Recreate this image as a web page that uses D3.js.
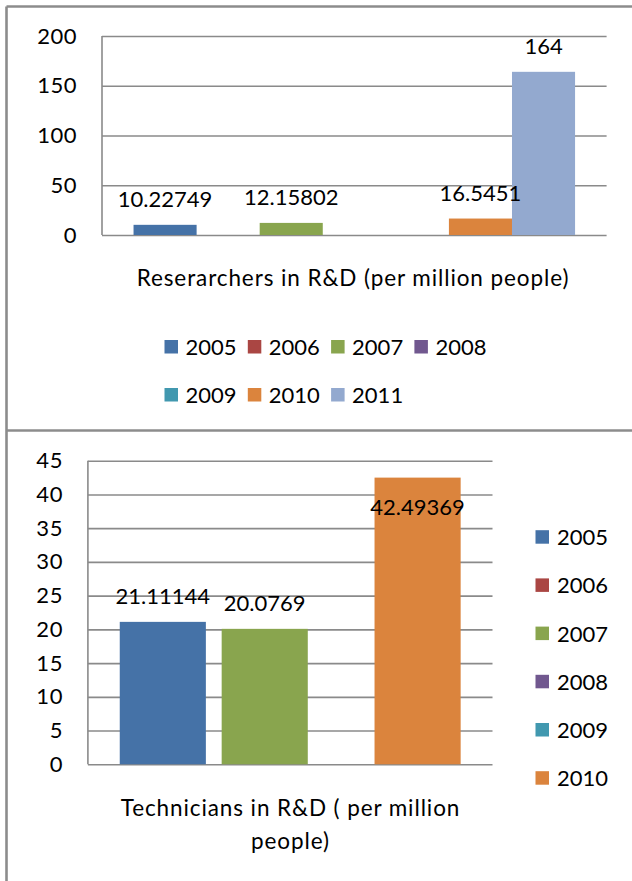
<!DOCTYPE html>
<html>
<head>
<meta charset="utf-8">
<script src="https://cdn.jsdelivr.net/npm/d3@7"></script>
<style>
  html, body { margin: 0; padding: 0; background: #fff; }
  svg { display: block; font-family: Lato, "Open Sans", sans-serif; }
</style>
</head>
<body>
<svg id="chart" width="632" height="881"></svg>
<script>
// Series (one per year) and values for each panel
const years = ["2005", "2006", "2007", "2008", "2009", "2010", "2011"];
const researchers = [10.22749, null, 12.15802, null, null, 16.5451, 164];
const techYears = ["2005", "2006", "2007", "2008", "2009", "2010"];
const technicians = [21.11144, null, 20.0769, null, null, 42.49369];
const yearColors = ["#4572A7", "#AA4643", "#89A54E", "#71588F", "#4198AF", "#DB843D", "#93A9CF"];
const researcherTicks = [0, 50, 100, 150, 200];
const technicianTicks = [0, 5, 10, 15, 20, 25, 30, 35, 40, 45];
const researcherTitle = ["Reserarchers in R&D (per million people)"];
const technicianTitle = ["Technicians in R&D ( per million", "people)"];

const svg = d3.select("#chart");
const GRID = "#8a8a8a";
const FONT = 22;
const color = d3.scaleOrdinal().domain(years).range(yearColors);

// Panel frames
const frame = svg.append("g").attr("fill", "none").attr("stroke", "#8c8c8c").attr("stroke-width", 2.6);
frame.append("line").attr("x1", 6.5).attr("y1", 6.5).attr("x2", 632).attr("y2", 6.5);
frame.append("line").attr("x1", 6.5).attr("y1", 6.5).attr("x2", 6.5).attr("y2", 881);
frame.append("line").attr("x1", 6.5).attr("y1", 430.5).attr("x2", 632).attr("y2", 430.5);

function valueAxis(g, y, ticks, width) {
  const axis = d3.axisLeft(y).tickValues(ticks).tickSize(-width).tickPadding(25).tickFormat(d3.format("d"));
  g.call(axis);
  g.select(".domain").remove();
  g.selectAll(".tick line").attr("stroke", GRID).attr("stroke-width", 1.6);
  g.selectAll(".tick text").attr("fill", "#000").style("font-size", FONT + "px")
    .style("font-family", "Lato, 'Open Sans', sans-serif").style("letter-spacing", "0.5px");
  g.append("line").attr("x1", 0).attr("x2", 0)
    .attr("y1", y(ticks[0])).attr("y2", y(ticks[ticks.length - 1]))
    .attr("stroke", GRID).attr("stroke-width", 1.6);
}

// Value labels sit above each bar; when that would leave the plot they go inside the bar top
function dataLabels(g, rows, xc, y, top) {
  const off = 26;
  g.selectAll("text.lbl").data(rows).join("text")
    .attr("class", "lbl")
    .attr("x", d => xc(d))
    .attr("y", d => {
      const yt = y(d.value);
      return (yt - off < top) ? yt + off + 3 : yt - off;
    })
    .attr("text-anchor", "middle")
    .attr("dominant-baseline", "central")
    .attr("font-size", FONT)
    .attr("fill", "#000")
    .text(d => d.value);
}

function axisTitle(g, lines, cx, cy) {
  g.selectAll("text.title").data(lines).join("text")
    .attr("class", "title")
    .attr("x", cx).attr("y", (d, i) => cy + i * 33)
    .attr("text-anchor", "middle").attr("dominant-baseline", "central")
    .attr("font-size", 22.5).attr("letter-spacing", "0.9px").attr("fill", "#000")
    .text(d => d);
}

// ---- Researchers panel ----
{
  const x0 = 102, x1 = 606.6;
  const y = d3.scaleLinear().domain([0, 200]).range([235, 36]);
  const x = d3.scaleBand().domain(years).range([x0, x1]).paddingInner(0).paddingOuter(0.5);
  const g = svg.append("g");
  valueAxis(g.append("g").attr("transform", `translate(${x0},0)`), y, researcherTicks, x1 - x0);

  const rows = years.map((yr, i) => ({ year: yr, value: researchers[i] })).filter(d => d.value != null);
  g.selectAll("rect").data(rows).join("rect")
    .attr("x", d => x(d.year))
    .attr("width", x.bandwidth())
    .attr("y", d => y(d.value))
    .attr("height", d => y(0) - y(d.value))
    .attr("fill", d => color(d.year));
  dataLabels(g, rows, d => x(d.year) + x.bandwidth() / 2, y, y(200));

  axisTitle(g, researcherTitle, 353, 277);

  // Legend: two rows
  const perRow = 4;
  const leg = g.selectAll("g.leg").data(years).join("g")
    .attr("class", "leg")
    .attr("transform", (d, i) => `translate(${164.5 + (i % perRow) * 83.3},${346.5 + Math.floor(i / perRow) * 48})`);
  leg.append("rect").attr("x", 0).attr("y", -6.5).attr("width", 13.5).attr("height", 13.5).attr("fill", d => color(d));
  leg.append("text").attr("x", 21).attr("y", 0).attr("dominant-baseline", "central")
    .attr("font-size", FONT).attr("fill", "#000").text(d => d);
}

// ---- Technicians panel ----
{
  const x0 = 87.9, x1 = 492.5;
  const y = d3.scaleLinear().domain([0, 45]).range([764.3, 460.7]);
  // overlapping clustered bars: centres on a point scale, bars wider than the step
  const x = d3.scalePoint().domain(techYears).range([x0, x1]).padding(1.47);
  const barW = x.step() * 1.69;
  const g = svg.append("g");
  valueAxis(g.append("g").attr("transform", `translate(${x0},0)`), y, technicianTicks, x1 - x0);

  const rows = techYears.map((yr, i) => ({ year: yr, value: technicians[i] })).filter(d => d.value != null);
  g.selectAll("rect").data(rows).join("rect")
    .attr("x", d => x(d.year) - barW / 2)
    .attr("width", barW)
    .attr("y", d => y(d.value))
    .attr("height", d => y(0) - y(d.value))
    .attr("fill", d => color(d.year));
  dataLabels(g, rows, d => x(d.year), y, y(45));

  axisTitle(g, technicianTitle, 290.5, 807);

  const leg = g.selectAll("g.leg").data(techYears).join("g")
    .attr("class", "leg")
    .attr("transform", (d, i) => `translate(535.5,${536.7 + i * 48.2})`);
  leg.append("rect").attr("x", 0).attr("y", -6.5).attr("width", 13.5).attr("height", 13.5).attr("fill", d => color(d));
  leg.append("text").attr("x", 21.5).attr("y", 0).attr("dominant-baseline", "central")
    .attr("font-size", FONT).attr("fill", "#000").text(d => d);
}
</script>
</body>
</html>
